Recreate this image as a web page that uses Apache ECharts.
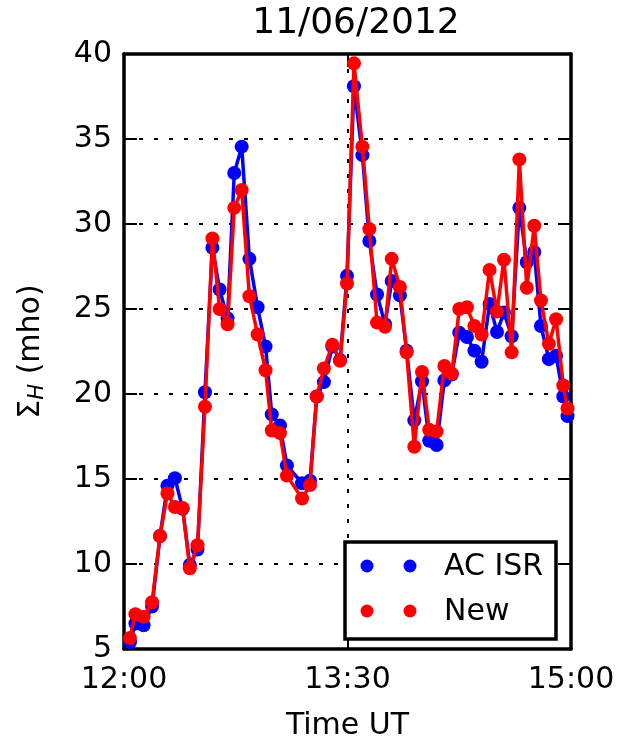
<!DOCTYPE html>
<html>
<head>
<meta charset="utf-8">
<script src="https://cdn.jsdelivr.net/npm/echarts@6/dist/echarts.min.js"></script>
<style>
html,body{margin:0;padding:0;background:#fff;}
#chart{width:620px;height:746px;}
</style>
</head>
<body>
<div id="chart"></div>
<script>
// minutes after 12:00 UT
var times = [2.4,4.6,7.9,11.3,14.5,17.5,20.5,23.6,26.5,29.6,32.6,35.6,38.5,41.7,44.4,47.4,50.5,53.8,57.0,59.5,62.8,65.6,71.7,74.9,77.6,80.5,83.9,87.0,89.8,92.6,96.0,98.8,101.9,105.1,107.8,111.1,113.8,116.9,120.0,122.9,125.9,129.0,132.0,135.0,138.1,141.1,144.0,147.2,150.2,153.0,156.1,159.2,162.2,165.2,167.9,171.1,174.0,176.9,178.6];
var acIsr = [5.4,6.5,6.4,7.5,11.65,14.6,15.05,13.25,9.95,10.85,20.1,28.6,26.15,24.45,33.0,34.55,27.95,25.1,22.8,18.8,18.15,15.8,14.75,14.9,19.85,20.7,22.8,22.0,26.95,38.1,34.05,29.0,25.85,24.1,26.65,25.8,22.55,18.45,20.75,17.25,17.0,20.8,21.15,23.6,23.35,22.55,21.9,25.3,23.65,24.8,23.4,30.95,27.75,28.35,24.0,22.05,22.25,19.85,18.7];
var newVals = [5.65,7.05,6.9,7.75,11.65,14.15,13.35,13.3,9.75,11.1,19.25,29.15,25.0,24.1,30.95,32.0,25.75,23.5,21.4,17.85,17.7,15.2,13.85,14.65,19.85,21.5,22.9,21.95,26.5,39.45,34.55,29.7,24.2,23.95,27.95,26.3,22.45,16.9,21.3,17.9,17.8,21.65,21.2,25.0,25.1,24.0,23.5,27.3,24.85,27.9,22.45,33.8,26.25,29.9,25.5,22.95,24.4,20.5,19.15];
var xTickLabels = {0:'12:00', 90:'13:30', 180:'15:00'};
var seriesNames = ['AC ISR','New'];
var titleText = '11/06/2012';

var FONT = 'DejaVu Sans';
function pairs(vals){ return vals.map(function(v,i){ return [times[i], v]; }); }

var chart = echarts.init(document.getElementById('chart'), null, {renderer:'canvas'});
var tick = {show:true, inside:true, length:13, lineStyle:{color:'#000', width:2}};
var axLine = {show:true, onZero:false, lineStyle:{color:'#000', width:3.5}};
var dotted = {show:true, lineStyle:{color:'#000', width:2, type:[4,11]}};

var option = {
  animation:false,
  backgroundColor:'#fff',
  textStyle:{fontFamily:FONT},
  title:{text:titleText, left:351, top:1, textAlign:'center',
    textStyle:{fontFamily:FONT, fontSize:36, fontWeight:'normal', color:'#000'}},
  grid:{left:124, right:49, top:54, bottom:91, containLabel:false},
  xAxis:[{
    type:'value', min:0, max:180, interval:90, position:'bottom',
    axisLine:axLine, axisTick:tick, splitLine:dotted,
    axisLabel:{fontFamily:FONT, fontSize:30, color:'#000', margin:16,
      formatter:function(v){ return xTickLabels[v] || ''; }},
    name:'Time UT', nameLocation:'middle', nameGap:62,
    nameTextStyle:{fontFamily:FONT, fontSize:30, color:'#000'}
  },{
    type:'value', min:0, max:180, interval:90, position:'top',
    axisLine:axLine, axisTick:tick, splitLine:{show:false}, axisLabel:{show:false}
  }],
  yAxis:[{
    type:'value', min:5, max:40, interval:5, position:'left',
    axisLine:axLine, axisTick:tick, splitLine:dotted,
    axisLabel:{fontFamily:FONT, fontSize:30, color:'#000', margin:12},
    name:'{n|Σ}{s|H}{n| (mho)}', nameLocation:'middle', nameGap:76, nameRotate:90,
    nameTextStyle:{fontFamily:FONT, fontSize:30, color:'#000',
      rich:{n:{fontFamily:FONT, fontSize:30, color:'#000'},
            s:{fontFamily:FONT, fontSize:21, fontStyle:'italic', color:'#000', padding:[12,0,0,0]}}}
  },{
    type:'value', min:5, max:40, interval:5, position:'right',
    axisLine:axLine, axisTick:tick, splitLine:{show:false}, axisLabel:{show:false}
  }],
  series:[{
    name:seriesNames[0], type:'line', data:pairs(acIsr),
    symbol:'circle', symbolSize:14, showSymbol:true,
    lineStyle:{color:'#0000ff', width:3.5}, itemStyle:{color:'#0000ff'}, z:2
  },{
    name:seriesNames[1], type:'line', data:pairs(newVals),
    symbol:'circle', symbolSize:14, showSymbol:true,
    lineStyle:{color:'#ff0000', width:3.5}, itemStyle:{color:'#ff0000'}, z:3
  }],
  graphic:[
    {type:'rect', shape:{x:345, y:542, width:211, height:97}, style:{fill:'#fff', stroke:'#000', lineWidth:3.5}, z:100},
    {type:'circle', shape:{cx:367, cy:566, r:6.5}, style:{fill:'#0000ff'}, z:101},
    {type:'circle', shape:{cx:410, cy:566, r:6.5}, style:{fill:'#0000ff'}, z:101},
    {type:'circle', shape:{cx:367, cy:611, r:6.5}, style:{fill:'#ff0000'}, z:101},
    {type:'circle', shape:{cx:410, cy:611, r:6.5}, style:{fill:'#ff0000'}, z:101},
    {type:'text', x:444, y:567, style:{text:seriesNames[0], font:'30px "DejaVu Sans"', fill:'#000', verticalAlign:'middle'}, z:101},
    {type:'text', x:444, y:612, style:{text:seriesNames[1], font:'30px "DejaVu Sans"', fill:'#000', verticalAlign:'middle'}, z:101}
  ]
};
chart.setOption(option);
</script>
</body>
</html>
